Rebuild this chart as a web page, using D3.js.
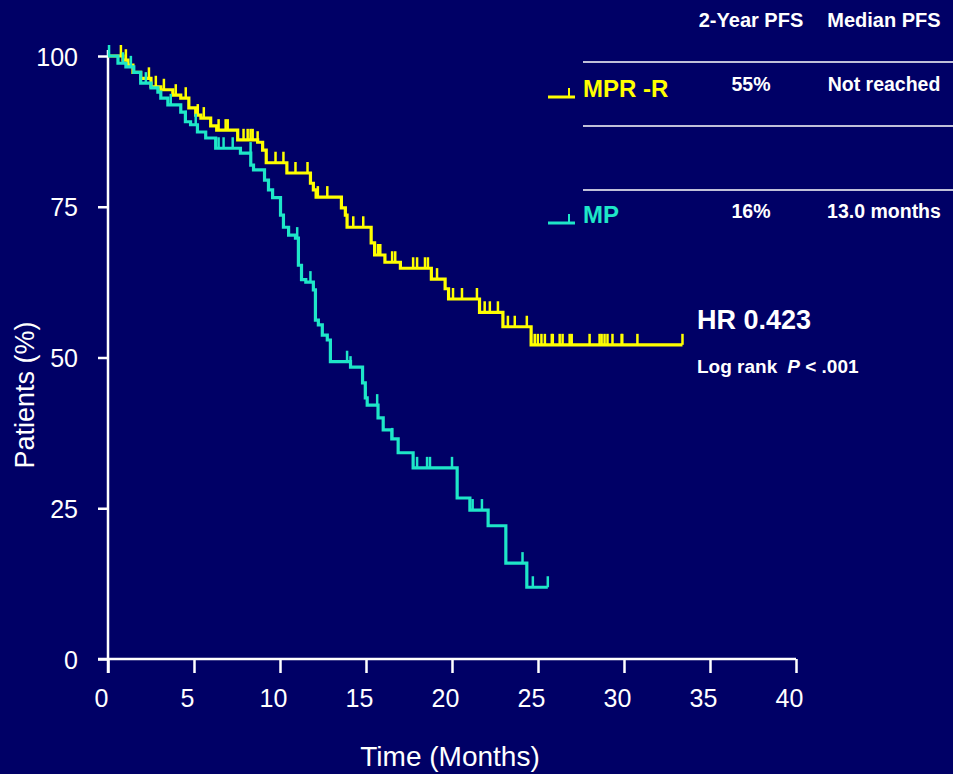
<!DOCTYPE html>
<html>
<head>
<meta charset="utf-8">
<script src="https://cdn.jsdelivr.net/npm/d3@7"></script>
<style>
  html, body { margin: 0; padding: 0; background: #000066; }
  svg { display: block; }
  text { font-family: "Liberation Sans", Arial, sans-serif; fill: #fff; }
</style>
</head>
<body>
<svg id="chart" width="953" height="774"></svg>
<script>
// Kaplan-Meier steps (months, % patients)
const mprrStepT = [0, 0.87, 1.16, 1.45, 1.9, 2.5, 3.07, 3.77, 4.23, 4.7, 5.1, 5.4, 5.97, 6.32, 7.54, 8.7, 8.99, 9.2, 10.4, 11.77, 11.94, 12.1, 13.57, 13.8, 13.9, 15.3, 15.5, 16.1, 17.0, 18.8, 19.6, 19.8, 21.6, 22.96, 24.6, 33.4]
const mprrStepS = [100, 99.3, 98.5, 97.3, 96.3, 94.9, 94.4, 93.5, 93.0, 91.4, 90.2, 89.7, 88.4, 87.7, 86.1, 85.7, 84.4, 82.3, 80.6, 78.9, 77.8, 76.6, 74.8, 73.6, 71.6, 69.0, 67.0, 65.8, 64.8, 63.0, 61.4, 59.7, 57.5, 55.1, 52.1, 52.1]
const mprrCensor = [0.75, 1.04, 2.38, 2.78, 3.25, 3.94, 4.52, 5.22, 5.57, 6.43, 6.84, 6.96, 7.88, 8.12, 8.29, 8.41, 8.7, 9.74, 10.2, 10.9, 11.6, 12.2, 12.75, 14.26, 14.84, 15.7, 15.83, 16.52, 16.7, 17.74, 17.97, 18.43, 18.6, 19.13, 20.06, 20.58, 21.45, 21.9, 22.2, 22.67, 23.25, 23.65, 24.35, 24.81, 24.99, 25.2, 25.4, 25.8, 25.86, 26.26, 26.43, 26.84, 26.96, 28.0, 28.58, 28.7, 28.87, 29.04, 29.33, 29.86, 29.9, 30.78, 33.4]

const mpStepT = [0, 0.58, 1.04, 1.5, 1.9, 2.5, 2.9, 3.07, 3.48, 4.23, 4.5, 4.8, 5.2, 5.68, 6.26, 7.7, 8.3, 8.46, 9.1, 9.33, 9.57, 10.03, 10.2, 10.5, 10.9, 11.07, 11.25, 11.5, 11.94, 12.06, 12.23, 12.46, 12.75, 12.93, 14.1, 14.8, 14.96, 15.07, 15.7, 16.0, 16.5, 16.87, 17.74, 20.3, 21.04, 22.1, 23.13, 24.35, 25.57]
const mpStepS = [100, 98.8, 98.2, 97.3, 95.5, 94.7, 94.0, 93.0, 91.9, 90.7, 89.1, 88.6, 87.4, 86.4, 84.7, 83.9, 81.9, 81.1, 79.4, 77.8, 76.5, 73.6, 71.6, 70.3, 69.8, 65.3, 62.9, 62.5, 61.2, 56.2, 55.4, 53.7, 52.9, 49.3, 48.4, 45.8, 43.3, 42.1, 40.0, 38.0, 36.5, 34.2, 31.7, 26.7, 24.7, 22.1, 15.9, 11.9, 11.9]
const mpCensor = [0.06, 0.87, 1.33, 2.2, 3.65, 4.52, 5.1, 6.43, 6.72, 7.25, 8.29, 11.0, 11.77, 13.9, 14.1, 14.96, 15.65, 16.52, 17.97, 18.55, 18.72, 20.0, 21.2, 21.74, 24.1, 24.7, 25.57]

const xTicks = [0, 5, 10, 15, 20, 25, 30, 35, 40]
const yTicks = [0, 25, 50, 75, 100]

const tableHeaders = ["2-Year PFS", "Median PFS"]
const arms = ["MPR -R", "MP"]
const twoYearPFS = ["55%", "16%"]
const medianPFS = ["Not reached", "13.0 months"]
const armColors = ["#ffff00", "#1ee6c8"]

const svg = d3.select("#chart")

const x = d3.scaleLinear().domain([0, 40]).range([108, 796])
const y = d3.scaleLinear().domain([0, 100]).range([659, 56])

// Axes
const xAxis = svg.append("g")
  .attr("transform", `translate(0,${y(0)})`)
  .call(d3.axisBottom(x).tickValues(xTicks).tickSize(14).tickSizeOuter(0).tickPadding(16))
const yAxis = svg.append("g")
  .attr("transform", `translate(${x(0)},0)`)
  .call(d3.axisLeft(y).tickValues(yTicks).tickSize(10).tickSizeOuter(0).tickPadding(20))

xAxis.select(".domain").attr("d", `M${x(0) - 10},0H${x(40)}`)
yAxis.select(".domain").attr("d", `M0,${y(0) + 14}V50`)
svg.selectAll(".domain, .tick line").attr("stroke", "#fff").attr("stroke-width", 2.5)
xAxis.selectAll(".tick text").attr("dx", -7)
svg.selectAll(".tick text")
  .style("font-size", "25px")
  .attr("fill", "#fff")
yAxis.selectAll(".tick text").attr("dy", "0.36em")

// Axis titles
svg.append("text")
  .attr("x", 450).attr("y", 766)
  .attr("text-anchor", "middle")
  .style("font-size", "28px")
  .text("Time (Months)")
svg.append("text")
  .attr("transform", "translate(34,395) rotate(-90)")
  .attr("text-anchor", "middle")
  .style("font-size", "27px")
  .text("Patients (%)")

// Curves
const line = d3.line()
  .x(d => x(d[0]))
  .y(d => y(d[1]))
  .curve(d3.curveStepAfter)

const survAt = (ts, ss, t) => {
  const i = d3.bisectRight(ts, t) - 1
  return ss[Math.max(0, i)]
}

const series = [
  { t: mprrStepT, s: mprrStepS, c: mprrCensor, color: armColors[0] },
  { t: mpStepT, s: mpStepS, c: mpCensor, color: armColors[1] }
]

series.forEach(d => {
  const pts = d.t.map((t, i) => [t, d.s[i]])
  svg.append("path")
    .datum(pts)
    .attr("d", line)
    .attr("fill", "none")
    .attr("stroke", d.color)
    .attr("stroke-width", 3.2)

  svg.append("g").selectAll("line")
    .data(d.c)
    .join("line")
    .attr("x1", t => x(t)).attr("x2", t => x(t))
    .attr("y1", t => y(survAt(d.t, d.s, t)))
    .attr("y2", t => y(survAt(d.t, d.s, t)) - 11)
    .attr("stroke", d.color)
    .attr("stroke-width", 2.5)
})

// Table legend
const colX = [751, 884]
const rowY = [91, 218]
svg.selectAll(".hdr")
  .data(tableHeaders)
  .join("text")
  .attr("class", "hdr")
  .attr("x", (d, i) => colX[i])
  .attr("y", 27)
  .attr("text-anchor", "middle")
  .style("font-size", "20px")
  .style("font-weight", "bold")
  .text(d => d)

;[62, 126, 190].forEach(ly => {
  svg.append("line")
    .attr("x1", 583).attr("x2", 953)
    .attr("y1", ly).attr("y2", ly)
    .attr("stroke", "#fff").attr("stroke-width", 1.5)
})

arms.forEach((name, i) => {
  const ly = rowY[i] + (i === 0 ? 6 : 5)
  svg.append("line")
    .attr("x1", 548).attr("x2", 575)
    .attr("y1", ly).attr("y2", ly)
    .attr("stroke", armColors[i]).attr("stroke-width", 3)
  svg.append("line")
    .attr("x1", 569).attr("x2", 569)
    .attr("y1", ly).attr("y2", ly - 9)
    .attr("stroke", armColors[i]).attr("stroke-width", 2)
  svg.append("text")
    .attr("x", 583).attr("y", ly)
    .style("font-size", "24px")
    .style("font-weight", "bold")
    .style("fill", armColors[i])
    .text(name)
  svg.append("text")
    .attr("x", colX[0]).attr("y", rowY[i])
    .attr("text-anchor", "middle")
    .style("font-size", "19.5px")
    .style("font-weight", "bold")
    .text(twoYearPFS[i])
  svg.append("text")
    .attr("x", colX[1]).attr("y", rowY[i])
    .attr("text-anchor", "middle")
    .style("font-size", "19.5px")
    .style("font-weight", "bold")
    .text(medianPFS[i])
})

// Hazard ratio annotation
svg.append("text")
  .attr("x", 697).attr("y", 329)
  .style("font-size", "27px")
  .style("font-weight", "bold")
  .text("HR 0.423")
const lr = svg.append("text")
  .attr("x", 697).attr("y", 373)
  .style("font-size", "19px")
  .style("font-weight", "bold")
lr.append("tspan").text("Log rank")
lr.append("tspan").attr("dx", 10).style("font-style", "italic").text("P")
lr.append("tspan").text(" < .001")
</script>
</body>
</html>
